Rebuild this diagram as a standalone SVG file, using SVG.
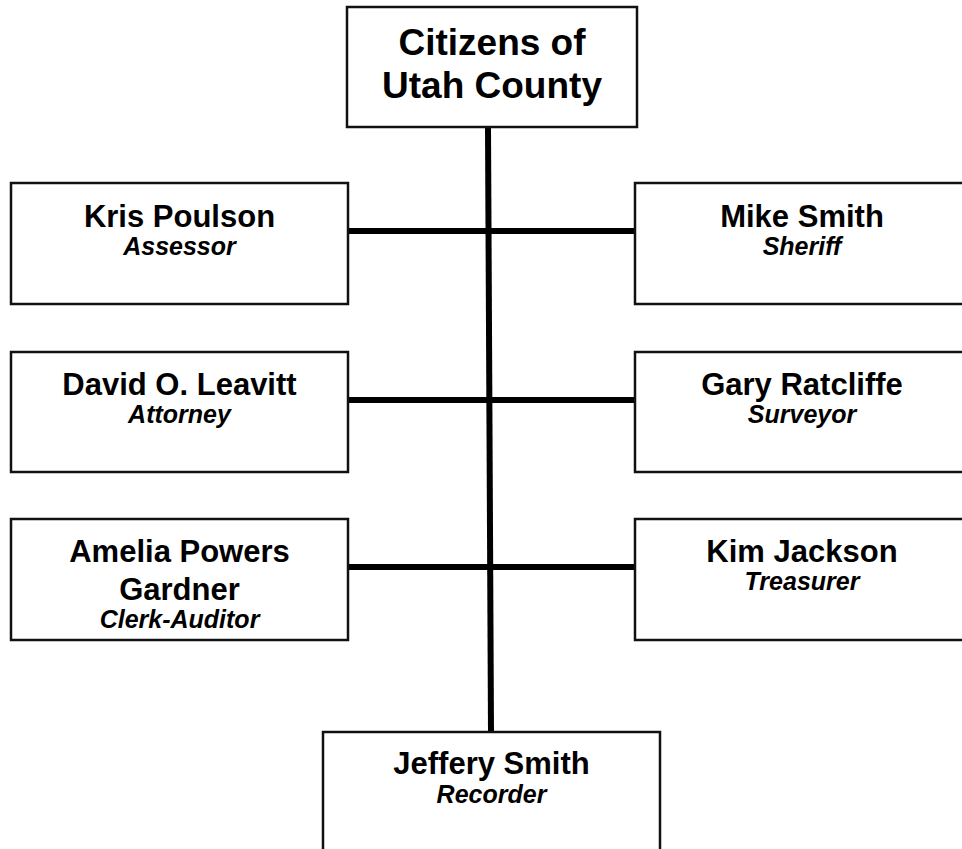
<svg xmlns="http://www.w3.org/2000/svg" width="962" height="849" viewBox="0 0 962 849">
<style>
.box{fill:#fff;stroke:#111;stroke-width:2.5}
.conn{stroke:#000;stroke-width:6;fill:none}
.name{font-family:"Liberation Sans",Arial,sans-serif;font-weight:bold;font-size:31px;text-anchor:middle;fill:#000}
.big{font-family:"Liberation Sans",Arial,sans-serif;font-weight:bold;font-size:37px;text-anchor:middle;fill:#000}
.role{font-family:"Liberation Sans",Arial,sans-serif;font-weight:bold;font-style:italic;font-size:25px;text-anchor:middle;fill:#000}
</style>
<rect width="962" height="849" fill="#fff"/>
<g id="connectors">
<line class="conn" x1="488" y1="127" x2="491" y2="732"/>
<line class="conn" x1="348" y1="231" x2="635" y2="231"/>
<line class="conn" x1="348" y1="400" x2="635" y2="400"/>
<line class="conn" x1="348" y1="567" x2="635" y2="567"/>
</g>
<g id="citizens">
<rect class="box" x="347" y="7" width="290" height="120"/>
<text class="big" x="492" y="55">Citizens of</text>
<text class="big" x="492" y="98">Utah County</text>
</g>
<g id="assessor">
<rect class="box" x="11" y="183" width="337" height="121"/>
<text class="name" x="179.5" y="227">Kris Poulson</text>
<text class="role" x="179.5" y="255">Assessor</text>
</g>
<g id="sheriff">
<rect class="box" x="635" y="183" width="340" height="121"/>
<text class="name" x="802" y="227">Mike Smith</text>
<text class="role" x="802" y="255">Sheriff</text>
</g>
<g id="attorney">
<rect class="box" x="11" y="352" width="337" height="120"/>
<text class="name" x="179.5" y="395">David O. Leavitt</text>
<text class="role" x="179.5" y="423">Attorney</text>
</g>
<g id="surveyor">
<rect class="box" x="635" y="352" width="340" height="120"/>
<text class="name" x="802" y="395">Gary Ratcliffe</text>
<text class="role" x="802" y="423">Surveyor</text>
</g>
<g id="clerk-auditor">
<rect class="box" x="11" y="519" width="337" height="121"/>
<text class="name" x="179.5" y="562">Amelia Powers</text>
<text class="name" x="179.5" y="600">Gardner</text>
<text class="role" x="179.5" y="628">Clerk-Auditor</text>
</g>
<g id="treasurer">
<rect class="box" x="635" y="519" width="340" height="121"/>
<text class="name" x="802" y="562">Kim Jackson</text>
<text class="role" x="802" y="590">Treasurer</text>
</g>
<g id="recorder">
<rect class="box" x="323" y="732" width="337" height="130"/>
<text class="name" x="491.5" y="774">Jeffery Smith</text>
<text class="role" x="491.5" y="803">Recorder</text>
</g>
</svg>
